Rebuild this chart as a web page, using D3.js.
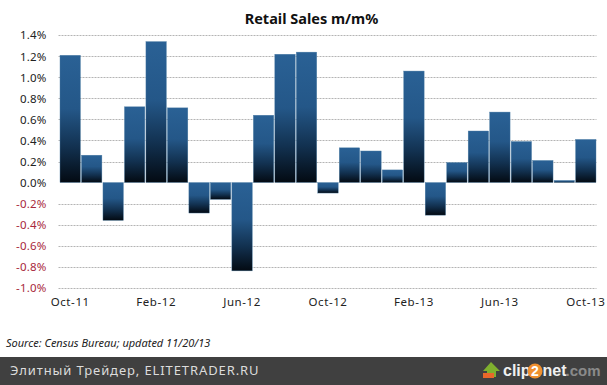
<!DOCTYPE html>
<html><head><meta charset="utf-8">
<script src="https://cdn.jsdelivr.net/npm/d3@7"></script>
<style>html,body{margin:0;padding:0;background:#fff}svg{display:block}</style></head>
<body><svg id="c" width="607" height="385"></svg>
<script>
const months = ["Oct-11","Nov-11","Dec-11","Jan-12","Feb-12","Mar-12","Apr-12","May-12","Jun-12","Jul-12","Aug-12","Sep-12","Oct-12","Nov-12","Dec-12","Jan-13","Feb-13","Mar-13","Apr-13","May-13","Jun-13","Jul-13","Aug-13","Sep-13","Oct-13"];
const values = [1.21,0.26,-0.36,0.72,1.34,0.71,-0.29,-0.16,-0.84,0.64,1.22,1.24,-0.10,0.33,0.30,0.12,1.06,-0.31,0.19,0.49,0.67,0.39,0.21,0.02,0.41];
const yTicks = [1.4,1.2,1.0,0.8,0.6,0.4,0.2,0,-0.2,-0.4,-0.6,-0.8,-1.0];
const xLabels = ["Oct-11","Feb-12","Jun-12","Oct-12","Feb-13","Jun-13","Oct-13"];
const titleText = "Retail Sales m/m%";
const sourceText = "Source: Census Bureau; updated 11/20/13";
const footerText = "Элитный Трейдер, ELITETRADER.RU";

const svg = d3.select("#c");
const font = "'Noto Sans', sans-serif";
const y = d3.scaleLinear().domain([-1,1.4]).range([287.7,35.3]);
const x = d3.scaleBand().domain(months).range([60,596]).paddingInner(0.05).paddingOuter(0);

const defs = svg.append("defs");
const g = defs.append("linearGradient").attr("id","bar").attr("x1",0).attr("y1",0).attr("x2",0).attr("y2",1);
[[0,"#2a6195"],[0.42,"#245788"],[0.72,"#123150"],[1,"#030a12"]].forEach(d=>g.append("stop").attr("offset",d[0]).attr("stop-color",d[1]));

const grid = svg.append("g");
grid.selectAll("line").data(yTicks.filter(d=>d!==0)).join("line")
  .attr("x1",58.5).attr("x2",596.5).attr("y1",d=>Math.round(y(d))+0.5).attr("y2",d=>Math.round(y(d))+0.5)
  .attr("stroke","#b4b4b4").attr("stroke-width",1).attr("stroke-dasharray","2,1");

svg.append("g").selectAll("rect").data(values).join("rect")
  .attr("x",(d,i)=>x(months[i])).attr("width",x.bandwidth())
  .attr("y",d=>y(Math.max(d,0))).attr("height",d=>Math.abs(y(d)-y(0)))
  .attr("fill","url(#bar)").attr("stroke","#4f7fa6").attr("stroke-width",0.4);

const yAxis = d3.axisLeft(y).tickValues(yTicks).tickSize(0).tickPadding(0).tickFormat(d=>d3.format(".1f")(d).replace("−","-")+"%");
const ya = svg.append("g").attr("transform","translate(46.5,0)").call(yAxis);
ya.select(".domain").remove();
ya.selectAll("text").attr("font-family",font).attr("font-size",11.5).style("letter-spacing","0.2px")
  .attr("fill",d=>d<0?"#a8283c":"#222");

const xAxis = d3.axisBottom(x).tickValues(xLabels).tickSize(0).tickPadding(0);
const xa = svg.append("g").attr("transform","translate(0,297.5)").call(xAxis);
xa.select(".domain").remove();
xa.selectAll("text").attr("font-family",font).attr("font-size",11.5).style("letter-spacing","0.6px").attr("fill","#222");

svg.append("text").attr("x",311.5).attr("y",24).attr("text-anchor","middle")
  .attr("font-family",font).attr("font-size",14.5).attr("font-weight","bold").attr("fill","#111").text(titleText);
svg.append("text").attr("x",6).attr("y",347)
  .attr("font-family",font).attr("font-size",11).attr("font-style","italic").attr("fill","#222").text(sourceText);

svg.append("rect").attr("x",0).attr("y",357).attr("width",607).attr("height",28).attr("fill","#404040");
svg.append("text").attr("x",10).attr("y",375).attr("font-family",font).attr("font-size",13).style("letter-spacing","0.9px").attr("fill","#dcdcdc").text(footerText);

const logoFont = "'Liberation Sans', sans-serif";
const logo = svg.append("g");
logo.append("path").attr("d","M491 362L500 371H496V377H487V371H483Z").attr("fill","#7fb02e");
logo.append("rect").attr("x",483).attr("y",373).attr("width",11).attr("height",5).attr("fill","#e8672a");
logo.append("text").attr("x",503).attr("y",376).attr("font-family",logoFont).attr("font-size",16).attr("font-weight","bold").attr("fill","#f0f0f0").text("clip");
logo.append("circle").attr("cx",535).attr("cy",371).attr("r",7.5).attr("fill","#f09030");
logo.append("text").attr("x",535).attr("y",376).attr("text-anchor","middle").attr("font-family",logoFont).attr("font-size",14).attr("font-weight","bold").attr("fill","#fff").text("2");
logo.append("text").attr("x",542.5).attr("y",376).attr("font-family",logoFont).attr("font-size",16).attr("font-weight","bold").attr("fill","#f0f0f0").text("net");
logo.append("text").attr("x",565.5).attr("y",376).attr("font-family",logoFont).attr("font-size",15).attr("font-weight","bold").attr("fill","#8a8a8a").text(".com");
</script></body></html>
